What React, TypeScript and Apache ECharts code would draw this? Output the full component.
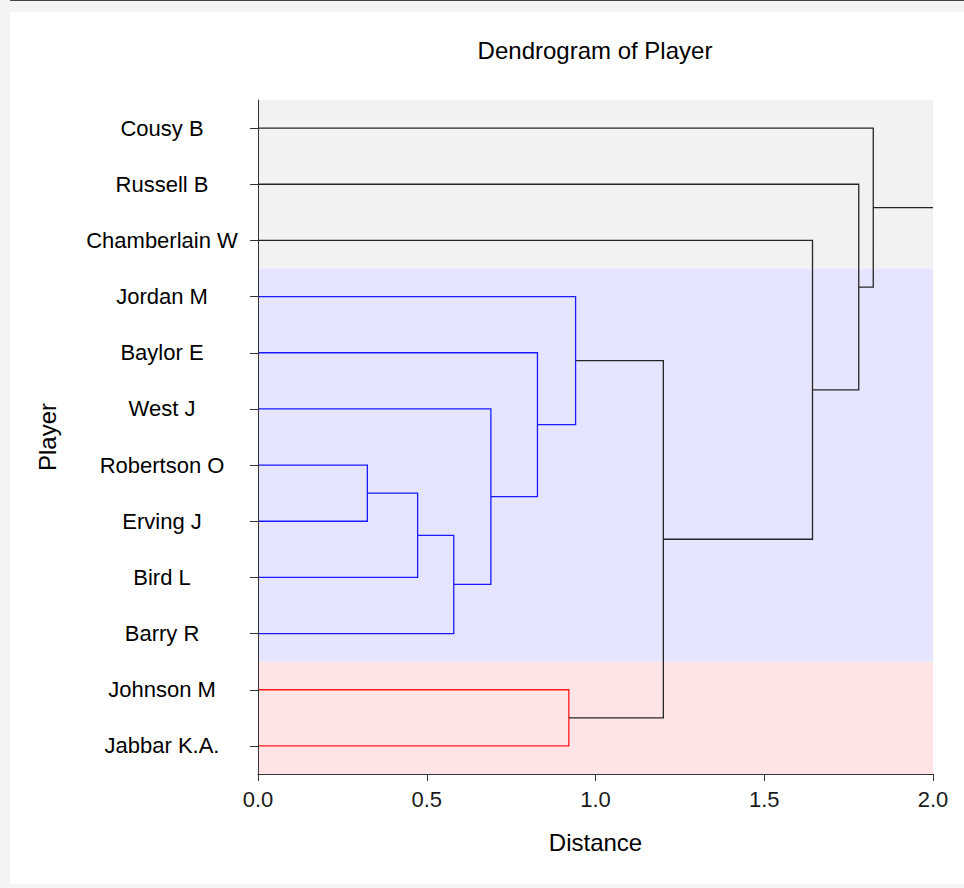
import React, { useEffect, useRef } from 'react';
import * as echarts from 'echarts';

// Leaves, top to bottom
const players = [
  'Cousy B', 'Russell B', 'Chamberlain W', 'Jordan M', 'Baylor E', 'West J',
  'Robertson O', 'Erving J', 'Bird L', 'Barry R', 'Johnson M', 'Jabbar K.A.',
];

// Merges: [childA, childB, distance, cluster]; node ids: leaves 0..11, merges 12..
const mergeA = [6, 12, 13, 5, 4, 3, 10, 17, 2, 1, 0];
const mergeB = [7, 8, 9, 14, 15, 16, 11, 18, 19, 20, 21];
const mergeDistance = [0.324, 0.473, 0.58, 0.69, 0.828, 0.941, 0.921, 1.201, 1.643, 1.78, 1.823];
const mergeCluster = ['blue', 'blue', 'blue', 'blue', 'blue', 'blue', 'red', 'none', 'none', 'none', 'none'];

// Clusters as leaf ranges [first, last]
const clusterFirst = [0, 3, 10];
const clusterLast = [2, 9, 11];
const clusterName = ['none', 'blue', 'red'];

const xTicks = [0, 0.5, 1.0, 1.5, 2.0];

const lineColors: Record<string, string> = { blue: '#1a1aff', red: '#ff1a1a', none: '#262626' };
const bandColors: Record<string, string> = { blue: '#e6e5ff', red: '#ffe4e5', none: '#f2f2f2' };

const FONT = 'Arial, "Liberation Sans", sans-serif';

function buildLinks() {
  const nx: number[] = players.map(() => 0);
  const ny: number[] = players.map((_, i) => i);
  const links: any[] = [];
  mergeA.forEach((a, k) => {
    const b = mergeB[k];
    const d = mergeDistance[k];
    links.push({
      coords: [[nx[a], ny[a]], [d, ny[a]], [d, ny[b]], [nx[b], ny[b]]],
      lineStyle: { color: lineColors[mergeCluster[k]] },
    });
    nx.push(d);
    ny.push((ny[a] + ny[b]) / 2);
  });
  const root = nx.length - 1;
  links.push({
    coords: [[nx[root], ny[root]], [xTicks[xTicks.length - 1], ny[root]]],
    lineStyle: { color: lineColors.none },
  });
  return links;
}

export default function App() {
  const ref = useRef<HTMLDivElement>(null);
  useEffect(() => {
    const chart = echarts.init(ref.current!, null, { renderer: 'svg' });
    const bandData = clusterFirst.map((f, i) => [f - 0.5, clusterLast[i] + 0.5, i]);
    const option: any = {
      animation: false,
      backgroundColor: 'transparent',
      title: {
        text: 'Dendrogram of Player',
        left: 595,
        top: 38,
        textAlign: 'center',
        padding: 0,
        textStyle: { fontFamily: FONT, fontSize: 24, fontWeight: 'normal', color: '#000', lineHeight: 24 },
      },
      grid: { left: 258, right: 31, top: 100, bottom: 114, containLabel: false },
      xAxis: {
        type: 'value',
        z: 10,
        min: xTicks[0],
        max: xTicks[xTicks.length - 1],
        interval: 0.5,
        name: 'Distance',
        nameLocation: 'middle',
        nameGap: 56,
        nameTextStyle: { fontFamily: FONT, fontSize: 24, color: '#000', lineHeight: 24 },
        axisLine: { show: true, onZero: false, lineStyle: { color: '#333', width: 1 } },
        axisTick: { show: true, length: 7, lineStyle: { color: '#333' } },
        splitLine: { show: false },
        axisLabel: {
          margin: 14,
          fontFamily: FONT,
          fontSize: 22,
          color: '#1a1a1a',
          lineHeight: 22,
          formatter: (v: number) => v.toFixed(1),
        },
      },
      yAxis: [
        {
          type: 'category',
          z: 10,
          data: players,
          inverse: true,
          boundaryGap: true,
          name: 'Player',
          nameLocation: 'middle',
          nameGap: 199,
          nameRotate: 90,
          nameTextStyle: { fontFamily: FONT, fontSize: 24, color: '#000', lineHeight: 24 },
          axisLine: { show: true, onZero: false, lineStyle: { color: '#333', width: 1 } },
          axisTick: { show: true, alignWithLabel: true, length: 8, lineStyle: { color: '#333' } },
          splitLine: { show: false },
          axisLabel: {
            align: 'center',
            margin: 96,
            padding: [0, 0, 4, 0],
            fontFamily: FONT,
            fontSize: 22,
            color: '#000',
          },
        },
        {
          type: 'value',
          min: -0.5,
          max: players.length - 0.5,
          inverse: true,
          show: false,
        },
      ],
      series: [
        {
          type: 'custom',
          xAxisIndex: 0,
          yAxisIndex: 1,
          z: 1,
          silent: true,
          data: bandData,
          encode: { y: [0, 1] },
          renderItem: (params: any, api: any) => {
            const p0 = api.coord([xTicks[0], api.value(0)]);
            const p1 = api.coord([xTicks[xTicks.length - 1], api.value(1)]);
            const c = clusterName[api.value(2)];
            return {
              type: 'rect',
              shape: { x: p0[0], y: p0[1], width: p1[0] - p0[0], height: p1[1] - p0[1] },
              style: { fill: bandColors[c] },
            };
          },
        },
        {
          type: 'lines',
          coordinateSystem: 'cartesian2d',
          xAxisIndex: 0,
          yAxisIndex: 1,
          polyline: true,
          z: 3,
          silent: true,
          lineStyle: { width: 1.3, opacity: 1 },
          data: buildLinks(),
        },
      ],
    };
    chart.setOption(option);
    return () => chart.dispose();
  }, []);
  return (
    <div style={{ position: 'absolute', left: 0, top: 0, width: 964, height: 888, background: '#f4f4f4', overflow: 'hidden' }}>
      <div style={{ position: 'absolute', left: 10, top: 0, right: 0, height: 1, background: '#444' }} />
      <div style={{ position: 'absolute', left: 10, top: 12, width: 954, height: 872, background: '#fff' }} />
      <div ref={ref} style={{ position: 'absolute', left: 0, top: 0, width: 964, height: 888 }} />
    </div>
  );
}
